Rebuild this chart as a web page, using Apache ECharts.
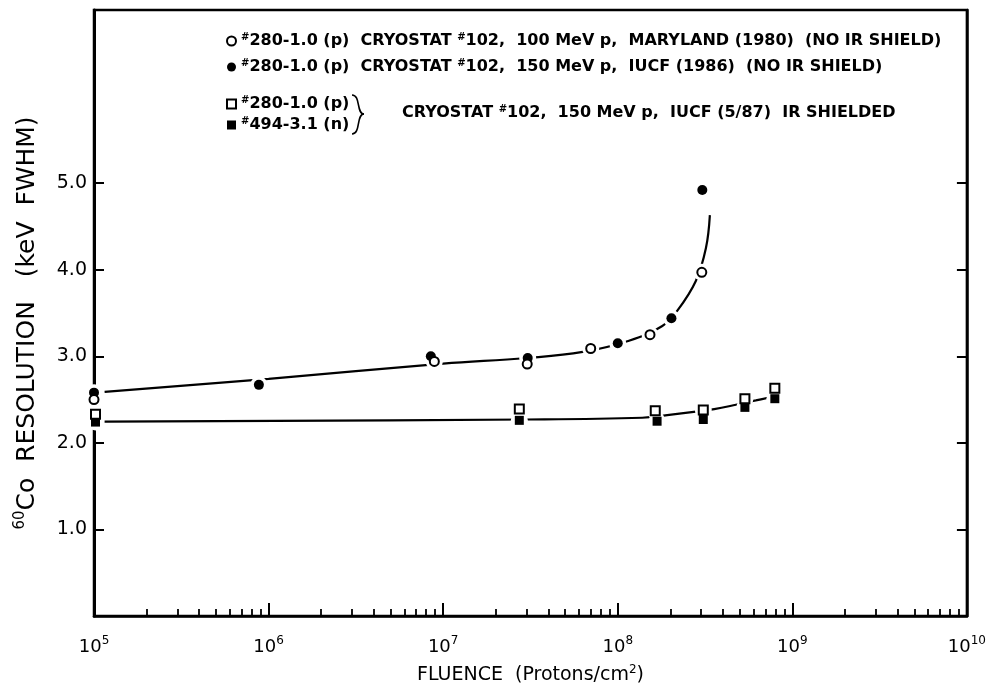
<!DOCTYPE html>
<html lang="en">
<head>
<meta charset="UTF-8">
<title>60Co resolution vs fluence</title>
<script src="https://cdn.jsdelivr.net/npm/echarts@6/dist/echarts.min.js"></script>
<style>
  html, body { margin: 0; padding: 0; background: #fff; }
  #chart { width: 989px; height: 691px; }
</style>
</head>
<body>
<div id="chart"></div>
<script>
// measured points, [fluence, resolution keV]
var openCircles = [[1.0e5, 2.50], [8.9e6, 2.94], [3.03e7, 2.91], [7.0e7, 3.09], [1.53e8, 3.25], [3.03e8, 3.97]];
var filledCircles = [[1.0e5, 2.58], [8.8e5, 2.67], [8.5e6, 3.00], [3.05e7, 2.98], [1.0e8, 3.15], [2.03e8, 3.44], [3.05e8, 4.92]];
var openSquares = [[1.02e5, 2.33], [2.73e7, 2.39], [1.64e8, 2.37], [3.09e8, 2.38], [5.35e8, 2.51], [7.94e8, 2.63]];
var filledSquares = [[1.02e5, 2.24], [2.73e7, 2.26], [1.68e8, 2.25], [3.09e8, 2.27], [5.35e8, 2.41], [7.94e8, 2.51]];

// hand drawn fit curves
var upperCurve = [[1.15e5, 2.59], [1e6, 2.74], [1e7, 2.915], [3e7, 2.98], [6.3e7, 3.05], [1.16e8, 3.18],
                  [1.8e8, 3.35], [2.2e8, 3.53], [2.8e8, 3.87], [3.2e8, 4.25], [3.37e8, 4.63]];
var lowerCurve = [[1.15e5, 2.245], [3e7, 2.27], [1.38e8, 2.29], [1.92e8, 2.32], [2.8e8, 2.36],
                  [3.57e8, 2.39], [4.75e8, 2.44], [6.18e8, 2.49], [7.6e8, 2.53]];

var xMajorTicks = [1e5, 1e6, 1e7, 1e8, 1e9, 1e10];
var xMinorTicks = [];
for (var e = 5; e < 10; e++) {
    for (var m = 2; m <= 9; m++) xMinorTicks.push(m * Math.pow(10, e));
}
var yTicks = [1, 2, 3, 4, 5];

var names = [
    '#280-1.0 (p)  CRYOSTAT #102,  100 MeV p,  MARYLAND (1980)  (NO IR SHIELD)',
    '#280-1.0 (p)  CRYOSTAT #102,  150 MeV p,  IUCF (1986)  (NO IR SHIELD)',
    '#280-1.0 (p)',
    '#494-3.1 (n)'
];

var FONT = 'DejaVu Sans';
var sup = { fontSize: 10, lineHeight: 10, verticalAlign: 'top', fontFamily: FONT, fontWeight: 'bold', color: '#000' };

function supHash(s) { return s.replace(/#/g, '{s|#}'); }

var chart = echarts.init(document.getElementById('chart'), null, { renderer: 'canvas' });

var legendText = {
    fontFamily: FONT, fontSize: 16, fontWeight: 'bold', color: '#000', lineHeight: 18,
    rich: { s: sup }
};

var option = {
    backgroundColor: '#fff',
    animation: false,
    grid: { left: 94, right: 21, top: 10, bottom: 71, show: true, borderColor: '#000', borderWidth: 2.5 },
    legend: [
        {
            data: [{ name: names[0], icon: 'circle' }, { name: names[1], icon: 'circle' }],
            orient: 'vertical', left: 226, top: 32, padding: 0, itemWidth: 9, itemHeight: 9, itemGap: 8,
            formatter: supHash, textStyle: legendText, selectedMode: false
        },
        {
            data: [{ name: names[2], icon: 'rect' }, { name: names[3], icon: 'rect' }],
            orient: 'vertical', left: 226, top: 95, padding: 0, itemWidth: 9, itemHeight: 9, itemGap: 3,
            formatter: supHash, textStyle: legendText, selectedMode: false
        }
    ],
    xAxis: [
        {
            type: 'log', logBase: 10, min: 1e5, max: 1e10, position: 'bottom',
            name: 'FLUENCE  (Protons/cm{s|2})', nameLocation: 'middle', nameGap: 48,
            nameTextStyle: { fontFamily: FONT, fontSize: 19, color: '#000', lineHeight: 22,
                rich: { s: { fontSize: 12, lineHeight: 12, verticalAlign: 'top', fontFamily: FONT, color: '#000' } } },
            axisLine: { lineStyle: { color: '#000', width: 2.5 } },
            axisTick: { inside: true, length: 13, customValues: xMajorTicks, lineStyle: { color: '#000', width: 2 } },
            axisLabel: {
                customValues: xMajorTicks, margin: 19, color: '#000', fontFamily: FONT, fontSize: 18, lineHeight: 24,
                formatter: function (v) { return '10{s|' + Math.round(Math.log10(v)) + '}'; },
                rich: { s: { fontSize: 12, lineHeight: 12, verticalAlign: 'top', fontFamily: FONT, color: '#000' } }
            },
            splitLine: { show: false }
        },
        {
            type: 'log', logBase: 10, min: 1e5, max: 1e10, position: 'bottom',
            axisLine: { show: false },
            axisTick: { inside: true, length: 7, customValues: xMinorTicks, lineStyle: { color: '#000', width: 1.8 } },
            axisLabel: { show: false },
            splitLine: { show: false }
        }
    ],
    yAxis: [
        {
            type: 'value', min: 0, max: 7, position: 'left',
            name: '{s|60}Co  RESOLUTION   (keV  FWHM)', nameLocation: 'middle', nameRotate: 90, nameGap: 53,
            nameTextStyle: { fontFamily: FONT, fontSize: 25, color: '#000', lineHeight: 28, padding: [0, 20, 0, 0],
                rich: { s: { fontSize: 15, lineHeight: 15, verticalAlign: 'top', fontFamily: FONT, color: '#000' } } },
            axisLine: { show: true, lineStyle: { color: '#000', width: 3 } },
            axisTick: { show: true, inside: true, length: 10, customValues: yTicks, lineStyle: { color: '#000', width: 2 } },
            axisLabel: { customValues: yTicks, margin: 7, color: '#000', fontFamily: FONT, fontSize: 19,
                formatter: function (v) { return v.toFixed(1); } },
            splitLine: { show: false }
        },
        {
            type: 'value', min: 0, max: 7, position: 'right',
            axisLine: { show: true, lineStyle: { color: '#000', width: 2.5 } },
            axisTick: { show: true, inside: true, length: 10, customValues: yTicks, lineStyle: { color: '#000', width: 2 } },
            axisLabel: { show: false },
            splitLine: { show: false }
        }
    ],
    graphic: [
        { type: 'bezierCurve', silent: true,
          shape: { x1: 352, y1: 95, cpx1: 361, cpy1: 95, cpx2: 356, cpy2: 114, x2: 364, y2: 114 },
          style: { stroke: '#000', lineWidth: 1.6, fill: null } },
        { type: 'bezierCurve', silent: true,
          shape: { x1: 352, y1: 134, cpx1: 361, cpy1: 134, cpx2: 356, cpy2: 114, x2: 364, y2: 114 },
          style: { stroke: '#000', lineWidth: 1.6, fill: null } },
        { type: 'text', left: 402, top: 104, silent: true,
          style: { text: 'CRYOSTAT {s|#}102,  150 MeV p,  IUCF (5/87)  IR SHIELDED', fontFamily: FONT, fontSize: 16,
                   fontWeight: 'bold', lineHeight: 18, fill: '#000', rich: { s: sup } } }
    ],
    series: [
        { type: 'line', data: upperCurve, smooth: 0.4, showSymbol: false, silent: true, z: 1,
          lineStyle: { color: '#000', width: 2.2 } },
        { type: 'line', data: lowerCurve, smooth: 0.4, showSymbol: false, silent: true, z: 1,
          lineStyle: { color: '#000', width: 2.2 } },
        // white halo to break the curves around the points
        { type: 'scatter', data: openCircles.concat(filledCircles, openSquares, filledSquares), symbol: 'circle',
          symbolSize: 17, silent: true, z: 2, itemStyle: { color: '#fff', opacity: 1 } },
        { name: names[1], type: 'scatter', data: filledCircles, symbol: 'circle', symbolSize: 10, z: 3,
          itemStyle: { color: '#000', opacity: 1 } },
        { name: names[0], type: 'scatter', data: openCircles, symbol: 'circle', symbolSize: 9, z: 4,
          itemStyle: { color: '#fff', borderColor: '#000', borderWidth: 2, opacity: 1 } },
        { name: names[3], type: 'scatter', data: filledSquares, symbol: 'rect', symbolSize: 9, z: 3,
          itemStyle: { color: '#000', opacity: 1 } },
        { name: names[2], type: 'scatter', data: openSquares, symbol: 'rect', symbolSize: 9, z: 4,
          itemStyle: { color: '#fff', borderColor: '#000', borderWidth: 2, opacity: 1 } }
    ]
};
chart.setOption(option);
</script>
</body>
</html>
